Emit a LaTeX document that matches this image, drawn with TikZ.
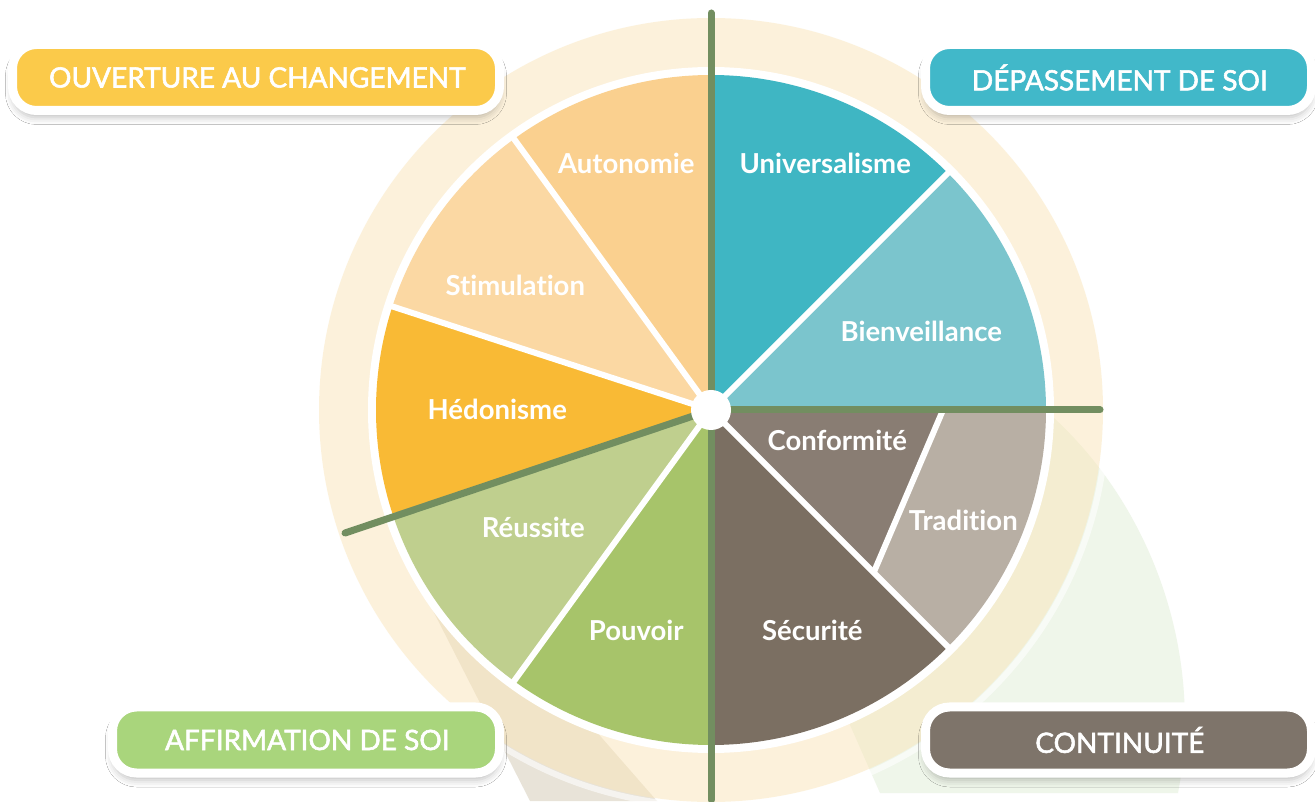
\documentclass[tikz,border=0pt]{standalone}
\usepackage{fontspec}
\setmainfont{Lato}[Ligatures = NoCommon]
\newfontfamily\capFam{Lato}[FakeBold = 2, Ligatures = NoCommon]
\usetikzlibrary{shadows.blur}
\definecolor{auto_orange}	{RGB}{250,208,143}
\definecolor{stim_orange}	{RGB}{251,216,163}
\definecolor{hedo_yellow}	{RGB}{249,186,53}
\definecolor{reus_green}	{RGB}{191,207,142}
\definecolor{pouv_green}	{RGB}{167,196,106}
\definecolor{secu_brown}	{RGB}{123,111,98}
\definecolor{conf_brown}	{RGB}{137,125,115}
\definecolor{trad_grey}		{RGB}{184,175,164}
\definecolor{bien_teal}		{RGB}{123,197,205}
\definecolor{uni_teal}		{RGB}{63,182,195}
\definecolor{axis_green}	{RGB}{114,142,96}
\definecolor{ring_cream}	{RGB}{250,229,185}
\definecolor{shade_green}	{RGB}{239,246,234}
\definecolor{shade_beige}	{RGB}{205,195,170}
\definecolor{box_yellow}	{RGB}{251,202,74}
\definecolor{box_teal}		{RGB}{65,184,201}
\definecolor{box_green}		{RGB}{169,213,124}
\definecolor{box_brown}		{RGB}{126,116,106}
\newcommand{\valFont}		{ \fontsize{27.5}{30}\selectfont\bfseries }
\newcommand{\capFont}		{ \capFam\fontsize{28}{31}\selectfont }
\begin{document}
\begin{tikzpicture}[auto,
		x               = 1pt,
		y               = 1pt,
		valueText/.style = {text = white,
			font           = \valFont,
			inner sep      = 0pt},
		groupBox/.style = {rectangle,
			rounded corners = 24pt,
			draw           = white,
			line width     = 9pt,
			text           = white,
			font           = \capFont,
			minimum height = 66pt,
			blur shadow    = {shadow xshift = 0pt, shadow yshift = -7pt,
				shadow opacity = 25, shadow blur radius = 7pt}},
		axisLine/.style = {draw = axis_green,
			line width     = 7pt,
			line cap       = round},
		sepLine/.style  = {draw = white,
			line width     = 6pt}]
		
		\useasboundingbox (0,0) rectangle (1315,801);
		\fill[white] (0,0) rectangle (1315,801);
		
		\coordinate (Center) at (711,391);
		
		% long shadows
		\fill[shade_green] (1045,391) .. controls (1150,300) and (1205,150) .. (1178,8)
			-- (880,8) -- (Center) -- cycle;
		\fill[shade_beige, opacity = 0.45] (425,206) -- (560,111) -- (657,0) -- (530,0) -- cycle;
		
		% ring
		\fill[ring_cream, opacity = 0.5] (Center) circle (392);
		\draw[white, opacity = 0.6, line width = 6pt] (Center) circle (396);
		\fill[white] (Center) circle (343);
		
		% sectors
		\foreach \from/\to/\col in {45/90/uni_teal, 0/45/bien_teal, -45/0/trad_grey,
			-90/-45/secu_brown, -126/-90/pouv_green, -162/-126/reus_green,
			162/198/hedo_yellow, 126/162/stim_orange, 90/126/auto_orange}
			\fill[\col] (Center) -- +(\from:335) arc[start angle = \from, end angle = \to, radius = 335] -- cycle;
		\fill[conf_brown] (Center) -- +(0:232) -- +(-45:230) -- cycle;
		
		\foreach \ang in {45, -45, 126, 162, -126}
			\draw[sepLine] (Center) -- +(\ang:336);
		\draw[sepLine] ([shift = {(0:232)}]Center) -- ([shift = {(-45:230)}]Center);
		
		% axes
		\coordinate (TopEnd)   at (711,788);
		\coordinate (BotEnd)   at (711,1);
		\coordinate (RightEnd) at (1100,391);
		\coordinate (LeftEnd)  at (345,268);
		\draw[axisLine] (TopEnd) -- (BotEnd);
		\draw[axisLine] (Center) -- (RightEnd);
		\draw[axisLine] (Center) -- (LeftEnd);
		
		\node[circle, fill = white, inner sep = 0pt, minimum size = 40pt] (Hub) at (Center) {};
		
		\node[valueText] (Auto)  at (625,638) {Autonomie};
		\node[valueText] (Univ)  at (824,638) {Universalisme};
		\node[valueText] (Stim)  at (514,516) {Stimulation};
		\node[valueText] (Bien)  at (920,470) {Bienveillance};
		\node[valueText] (Hedo)  at (496,392) {Hédonisme};
		\node[valueText] (Conf)  at (836,361) {Conformité};
		\node[valueText] (Trad)  at (962,281) {Tradition};
		\node[valueText] (Reus)  at (532,274) {Réussite};
		\node[valueText] (Pouv)  at (635,171) {Pouvoir};
		\node[valueText] (Secu)  at (811,171) {Sécurité};
		
		\node[groupBox, fill = box_yellow, minimum width = 487pt] (Open) at (256,723.5)
		{OUVERTURE AU CHANGEMENT};
		\node[groupBox, fill = box_teal, minimum width = 386pt] (Self) at (1118.5,723.5)
		{DÉPASSEMENT DE SOI};
		\node[groupBox, fill = box_green, minimum width = 387pt] (Affirm) at (306,61)
		{AFFIRMATION DE SOI};
		\node[groupBox, fill = box_brown, minimum width = 386pt] (Cont) at (1118.5,61)
		{CONTINUITÉ};
		
	\end{tikzpicture}
\end{document}
